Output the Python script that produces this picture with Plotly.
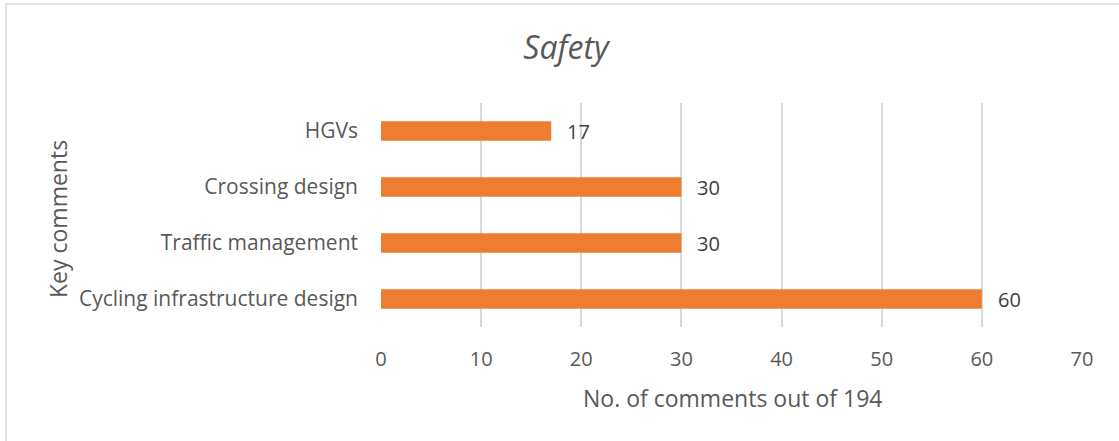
import plotly.graph_objects as go

categories = ["Cycling infrastructure design", "Traffic management", "Crossing design", "HGVs"]
values = [60, 30, 30, 17]
x_ticks = [0, 10, 20, 30, 40, 50, 60, 70]

W, H = 1119, 441
L, R, T, B = 381, 37, 103, 114
pw, ph = W - L - R, H - T - B

FONT = "Open Sans"
GREY = "#595959"
fig = go.Figure()
fig.add_trace(go.Bar(
    y=categories, x=values, orientation="h",
    marker=dict(color="#ED7D31", line=dict(width=0)),
    width=0.35, hoverinfo="skip",
))
for c, v in zip(categories, values):
    fig.add_annotation(x=v, y=c, text=str(v), showarrow=False, xanchor="left",
                       xshift=14, font=dict(family=FONT, size=20, color="#404040"))

# y-axis title placed at pixel position
fig.add_annotation(xref="paper", yref="paper", x=(58 - L) / pw, y=1 - (219 - T) / ph,
                   text="Key comments", textangle=-90, showarrow=False,
                   xanchor="center", yanchor="middle",
                   font=dict(family=FONT, size=23, color=GREY))
# x-axis title
fig.add_annotation(xref="paper", yref="paper", x=(732 - L) / pw, y=-(398 - T - ph) / ph,
                   text="No. of comments out of 194", showarrow=False,
                   xanchor="center", yanchor="middle",
                   font=dict(family=FONT, size=23, color=GREY))

fig.add_shape(type="rect", xref="paper", yref="paper",
              x0=(6 - L) / pw, x1=(W + 5 - L) / pw,
              y0=-(H + 5 - T - ph) / ph, y1=1 + (T - 4) / ph,
              line=dict(color="#D9D9D9", width=1.5), fillcolor="rgba(0,0,0,0)", layer="below")

fig.update_layout(
    width=W, height=H, margin=dict(l=L, r=R, t=T, b=B),
    paper_bgcolor="white", plot_bgcolor="white", showlegend=False,
    title=dict(text="<i>Safety</i>", x=566 / W, xanchor="center", y=1 - 48 / H, yanchor="middle",
               font=dict(family=FONT, size=32, color=GREY)),
    xaxis=dict(range=[0, 70], tickvals=x_ticks, showgrid=True, gridcolor="#D9D9D9", gridwidth=1.5,
               zeroline=False, showline=False, ticks="",
               tickfont=dict(family=FONT, size=20, color=GREY),
               ticklabelstandoff=18),
    yaxis=dict(showgrid=False, zeroline=False, showline=False, ticks="",
               tickfont=dict(family=FONT, size=21, color=GREY),
               ticklabelstandoff=22),
    bargap=0.65,
)
fig.write_html("out.html")
